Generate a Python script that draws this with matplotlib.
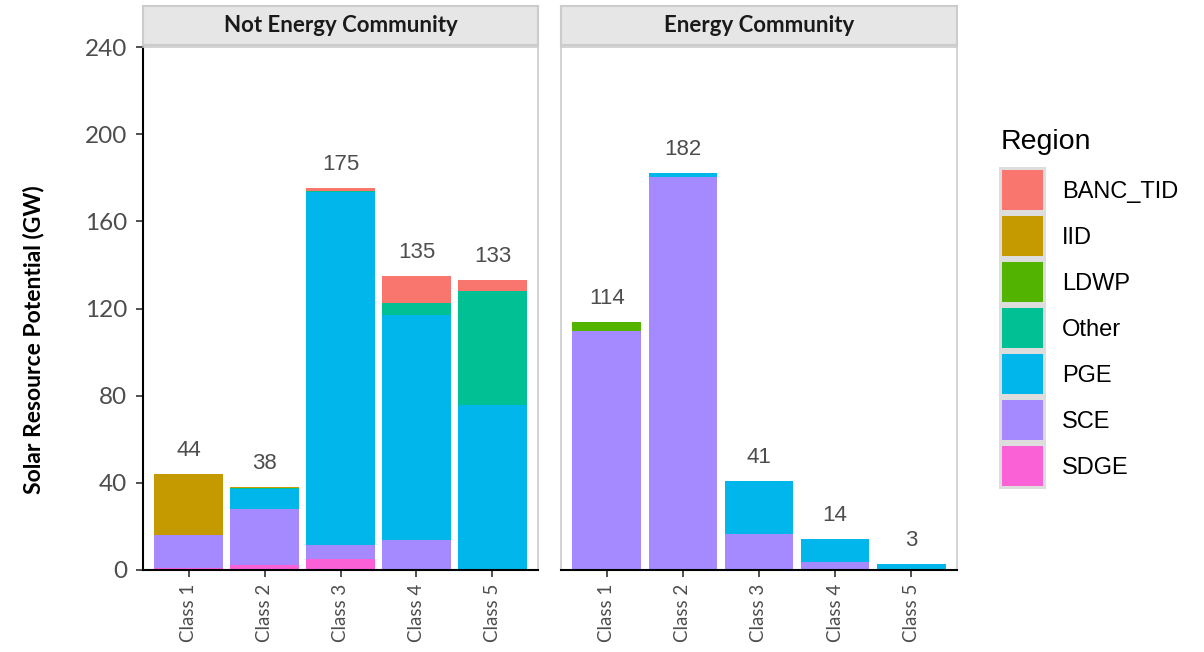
import matplotlib
matplotlib.use("Agg")
import matplotlib.pyplot as plt
from matplotlib.patches import Rectangle
import numpy as np

# data (GW), stacked bottom -> top
classes = ["Class 1", "Class 2", "Class 3", "Class 4", "Class 5"]
regions = ["BANC_TID", "IID", "LDWP", "Other", "PGE", "SCE", "SDGE"]
colors = ["#F8766D", "#C49A00", "#53B400", "#00C094", "#00B6EB", "#A58AFF", "#FB61D7"]

not_ec = {
    "SDGE":     [1.0, 2.5, 5.0, 0.0, 0.0],
    "SCE":      [15.0, 25.5, 6.3, 13.8, 0.0],
    "PGE":      [0.0, 9.0, 162.0, 103.0, 75.5],
    "Other":    [0.0, 0.5, 0.5, 5.5, 52.5],
    "LDWP":     [0.0, 0.0, 0.0, 0.0, 0.0],
    "IID":      [28.0, 0.5, 0.0, 0.0, 0.0],
    "BANC_TID": [0.0, 0.0, 1.5, 12.7, 5.0],
}
ec = {
    "SDGE":     [0.0, 0.0, 0.0, 0.0, 0.0],
    "SCE":      [109.5, 180.5, 16.5, 3.5, 0.0],
    "PGE":      [0.0, 1.5, 24.5, 10.5, 2.7],
    "Other":    [0.0, 0.0, 0.0, 0.0, 0.0],
    "LDWP":     [4.5, 0.0, 0.0, 0.0, 0.0],
    "IID":      [0.0, 0.0, 0.0, 0.0, 0.0],
    "BANC_TID": [0.0, 0.0, 0.0, 0.0, 0.0],
}
panel_titles = ["Not Energy Community", "Energy Community"]

W, H = 1204, 652
fig = plt.figure(figsize=(W / 100, H / 100), dpi=100)

def px(x0, y0, x1, y1):
    return [x0 / W, 1 - y1 / H, (x1 - x0) / W, (y1 - y0) / H]

calibri = ["Lato", "DejaVu Sans"]
arial = ["Liberation Sans", "DejaVu Sans"]
grey_txt = "#4D4D4D"

panels = [(143, 538, not_ec), (561, 957, ec)]
x = np.arange(1, 6)
for i, (xl, xr, data) in enumerate(panels):
    ax = fig.add_axes(px(xl, 47, xr, 570))
    bottom = np.zeros(5)
    for reg in ["SDGE", "SCE", "PGE", "Other", "LDWP", "IID", "BANC_TID"]:
        vals = np.array(data[reg])
        ax.bar(x, vals, width=0.9, bottom=bottom, color=colors[regions.index(reg)],
               linewidth=0)
        bottom += vals
    for xi, tot in zip(x, bottom):
        ax.text(xi, tot + 6, f"{tot:.0f}", ha="center", va="bottom",
                fontsize=16, color=grey_txt, family=arial)
    ax.set_xlim(0.4, 5.6)
    ax.set_ylim(0, 240)
    ax.set_xticks(x)
    ax.set_xticklabels(classes, rotation=90, fontsize=13.5, color=grey_txt, family=calibri)
    ax.tick_params(axis="x", length=5, width=1.2, color="#333333", pad=5)
    for s in ["top", "right"]:
        ax.spines[s].set_color("#CCCCCC")
        ax.spines[s].set_linewidth(1.2)
    ax.spines["bottom"].set_color("black")
    ax.spines["bottom"].set_linewidth(1.5)
    if i == 0:
        ax.spines["left"].set_color("black")
        ax.spines["left"].set_linewidth(1.5)
        ax.set_yticks(np.arange(0, 241, 40))
        ax.set_yticklabels([str(v) for v in range(0, 241, 40)], fontsize=17.5,
                           color=grey_txt, family=calibri)
        ax.tick_params(axis="y", length=5, width=1.2, color="#333333", pad=6.5)
        ax.set_ylabel("Solar Resource Potential (GW)", fontsize=16.5, fontweight="bold",
                      family=calibri)
        ax.yaxis.set_label_coords(-0.25, 0.44)
    else:
        ax.spines["left"].set_color("#CCCCCC")
        ax.spines["left"].set_linewidth(1.2)
        ax.set_yticks([])
    # facet strip
    sax = fig.add_axes(px(xl, 6, xr, 45))
    sax.set_xticks([])
    sax.set_yticks([])
    sax.set_facecolor("#E6E6E6")
    for s in sax.spines.values():
        s.set_color("#CCCCCC")
        s.set_linewidth(1.5)
    sax.text(0.5, 0.5, panel_titles[i], ha="center", va="center", fontsize=16,
             fontweight="bold", color="#1A1A1A", family=calibri, transform=sax.transAxes)

# legend drawn by hand to match the ggplot key boxes
fig.text(1001 / W, 1 - 142 / H, "Region", fontsize=20.5, va="center", ha="left", family=arial)
for k, (reg, col) in enumerate(zip(regions, colors)):
    y0 = 167 + k * 46
    fig.patches.append(Rectangle((999 / W, 1 - (y0 + 46) / H), 47 / W, 46 / H,
                                 transform=fig.transFigure, facecolor="#DDDDDD",
                                 edgecolor="none"))
    fig.patches.append(Rectangle((1002 / W, 1 - (y0 + 43) / H), 41 / W, 40 / H,
                                 transform=fig.transFigure, facecolor=col,
                                 edgecolor="none"))
    fig.text(1062 / W, 1 - (y0 + 25) / H, reg, fontsize=17, va="center", ha="left",
             family=arial)

fig.savefig("out.png", dpi=100)
